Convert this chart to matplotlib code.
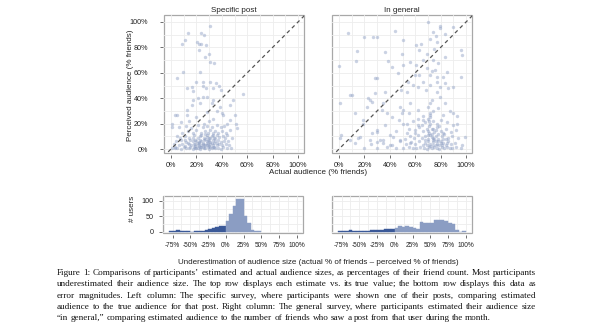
import numpy as np
import matplotlib
matplotlib.use("Agg")
from matplotlib import pyplot as plt

# ---- data ----
# (actual %, perceived %) pairs, specific-post survey
specific_points = [
    (30.7, 97), (24, 91.6), (26, 90), (13.6, 91), (10.8, 86), (8.7, 83), (22, 83), (20.5, 84),
    (24, 83), (27.6, 82), (22, 78), (29.7, 75), (26.8, 72.7), (30.7, 68.7), (33.9, 67.5),
    (9.2, 61), (22.8, 61), (5, 55.7), (20, 53), (25, 53), (31, 53), (35.4, 52), (12.8, 47.8),
    (17.6, 45.7), (25.4, 49.6), (27.5, 48), (32.8, 47.8), (38, 49.6), (39.4, 46.5), (57, 43),
    (49, 38.6), (46.5, 34.6), (50.4, 26.8), (51, 20), (46.5, 22.8), (3, 26.8), (0.5, 17.6),
    (12.4, 26.8), (16.3, 34.6), (17.6, 38.6), (21, 40), (25, 41), (32, 36), (40, 28),
    (43.8, 20), (51.7, 16.3), (46.5, 15), (42.5, 8.4), (16.3, 49), (28, 41), (33, 38.6),
    (22.8, 36), (38.6, 33.3), (12.4, 30.7), (28, 29.4), (41, 26.8), (4.5, 26.8), (20, 25.4),
    (33, 24), (0.5, 20), (36, 30), (30, 22), (14, 22), (26, 20), (8, 21),
    # dense cluster
    (3, 0.5), (5, 1), (8, 0), (10, 1.5), (12, 0.5), (14, 1), (15, 2), (17, 0), (18, 1.5), (20, 0.5),
    (21, 1), (23, 0), (24, 2), (26, 1), (27, 0.5), (29, 1.5), (30, 0), (32, 1), (33, 2), (35, 0.5),
    (37, 1), (39, 0), (41, 1.5), (44, 0.5), (47, 1),
    (6, 3), (9, 4), (11, 2.5), (13, 4.5), (16, 3), (18, 4), (19, 2.5), (21, 3.5), (22, 4.5), (24, 3),
    (25, 4), (27, 3), (28, 4.5), (30, 2.5), (31, 4), (33, 3.5), (34, 4.5), (36, 3), (38, 4), (40, 3),
    (43, 4), (46, 3),
    (4, 6), (8, 7), (12, 5.5), (15, 7), (17, 6), (19, 7.5), (22, 5.5), (24, 6.5), (26, 7.5), (28, 6),
    (29, 7), (31, 5.5), (33, 7), (35, 6), (37, 7.5), (39, 5.5), (42, 6.5), (45, 6),
    (7, 9), (11, 10), (14, 8.5), (18, 11), (21, 9), (23, 10.5), (26, 9), (28, 11), (30, 8.5), (32, 10),
    (34, 9), (36, 11), (38, 9.5), (41, 10), (44, 11), (48, 9),
    (9, 13), (13, 14), (17, 12.5), (20, 15), (24, 13), (27, 14.5), (29, 12.5), (31, 15), (33, 13),
    (35, 14), (37, 12.5), (40, 14.5), (43, 13),
    (6, 17), (12, 18), (16, 16.5), (21, 19), (25, 17), (28, 18.5), (32, 17), (36, 19), (39, 17), (42, 18),
    (1, 1), (2, 4), (3, 2), (5, 10), (23, 2), (28, 3), (31, 2), (25, 5), (20, 6), (35, 9), (27, 12),
    (19, 1), (22, 2.5), (26, 3.5), (29, 4), (32, 5), (23, 7), (27, 8), (31, 9), (24, 11), (19, 4),
    (34, 2), (36, 5), (30, 6), (25, 1.5), (21, 5), (28, 9.5), (33, 11), (17, 9), (14, 4), (11, 7),
]

# (actual %, perceived %) pairs, general survey
general_points = [
    (69.8, 99.7), (79.5, 96.8), (7.3, 91), (20, 88), (27, 88), (29.7, 88), (44, 93), (74, 92),
    (79.5, 95), (83.5, 90.5), (90, 96), (71.7, 87), (76.4, 89), (77, 84.5), (64.3, 83), (60.6, 82),
    (50, 86), (14, 77.4), (36, 76), (49.5, 74.5), (63, 78), (69, 75), (74.8, 78.5), (83.5, 72.7),
    (95.8, 78), (96.6, 74), (13, 69.5), (38.8, 69.5), (56, 68.7), (66.4, 70), (74, 70), (78, 67.5),
    (0.3, 65), (41.5, 64.8), (50, 66), (61, 66), (69.6, 64), (73, 61.4), (75.6, 62), (84.8, 61),
    (46.7, 59.6), (59.8, 58), (63, 58), (71.7, 58), (77, 57), (82, 57), (96, 57), (28.3, 55.7),
    (54.6, 53), (58, 50.4), (62.4, 49), (66.4, 53), (71.7, 50.4), (77, 53), (79.5, 49), (83.5, 51.7),
    (86, 47.8), (90, 49), (36, 45), (48.6, 46.5), (53.3, 45), (68.5, 46.5), (77, 45), (29.7, 55.7),
    (10, 42.5), (0.8, 36), (23, 40), (25.7, 37), (21.8, 33.3), (12.6, 28), (19, 22.8), (1.6, 11),
    (0.8, 8.4), (8.7, 7), (16.5, 9.7), (12.6, 4.5), (28.3, 43.8), (35, 36), (33.6, 30.7), (37.5, 28),
    (41.5, 25.4), (36.2, 19), (48, 33.3), (50.6, 30.7), (47.2, 22.8), (29.7, 13.6), (24.4, 7),
    (35, 7), (42.8, 9.7), (40, 3), (29.7, 5.7), (48, 7), (53.3, 12.4), (56, 4.5), (8.7, 42.5),
    (24.4, 38.6), (19, 20), (25.7, 12.4), (32.3, 7), (49.3, 28), (56, 36), (53.3, 20), (59.8, 15),
    (62.4, 19), (66.4, 22.8), (71.7, 28), (71.7, 36), (73, 38.6), (79.5, 41), (83.5, 36), (90, 28),
    (92.6, 20), (99, 9.7), (96.6, 3),
    # dense cluster
    (20, 1), (30, 0.5), (38, 2), (45, 1), (50, 0.5), (55, 2), (58, 1), (61, 0.5), (64, 2), (67, 1),
    (69, 0), (71, 1.5), (73, 0.5), (75, 2), (77, 1), (79, 0), (81, 1.5), (83, 0.5), (85, 2), (87, 1),
    (89, 0.5), (92, 1.5), (96, 0.5),
    (25, 4), (35, 5), (42, 3.5), (48, 6), (53, 4), (57, 5.5), (60, 4), (63, 6), (66, 3.5), (68, 5),
    (70, 6), (72, 4), (74, 5.5), (76, 3.5), (78, 6), (80, 4.5), (82, 5), (84, 3.5), (86, 6), (88, 4),
    (91, 5),
    (15, 9), (40, 11), (52, 8), (56, 10), (59, 8.5), (62, 11), (65, 9), (68, 10.5), (70, 8), (72, 11),
    (74, 9), (76, 10.5), (78, 8), (81, 10), (83, 11.5), (86, 9), (89, 10), (94, 8.5),
    (30, 15), (45, 14), (55, 16), (60, 13), (63, 17), (66, 14), (69, 16), (71, 13), (73, 15.5),
    (75, 13.5), (77, 17), (80, 14), (84, 16), (88, 13.5), (92, 15),
    (50, 20), (58, 22), (62, 24), (65, 19), (68, 21), (70, 24), (72, 19.5), (74, 22), (77, 20),
    (80, 23), (85, 21), (90, 19),
    (55, 28), (62, 31), (66, 26), (70, 33), (72, 27), (74, 30), (78, 32), (82, 27), (87, 30), (93, 26),
    (71, 18), (73, 12), (70, 14), (74, 7), (79, 3), (82, 8), (76, 6), (69, 3),
    (72, 2.5), (75, 8), (78, 12), (80, 6.5), (77, 4), (73, 9.5), (71, 22), (72, 25), (74, 16),
    (79, 18), (82, 12.5), (84, 8), (76, 15), (70, 11), (68, 7), (85, 4.5), (81, 3), (74, 3),
]

# error histograms, 5%-wide bins starting at the given left edge
specific_bins = np.arange(-80, 50, 5)
specific_counts = [4, 4, 5, 4, 3, 2, 0, 2, 3, 4, 6, 9, 13, 16, 18, 19,
                   34, 58, 84, 105, 105, 50, 30, 6, 1, 1]
general_bins = np.arange(-80, 100, 5)
general_counts = [1, 2, 3, 5, 3, 3, 4, 2, 3, 5, 5, 6, 7, 9, 10, 10,
                  12, 20, 16, 18, 14, 12, 10, 31, 30, 28, 28, 38, 39, 39, 36, 30,
                  25, 6, 0, 3]

scatter_ticks = [0, 20, 40, 60, 80, 100]
scatter_labels = ["0%", "20%", "40%", "60%", "80%", "100%"]
hist_ticks = [-75, -50, -25, 0, 25, 50, 75, 100]
hist_labels = ["-75%", "-50%", "-25%", "0%", "25%", "50%", "75%", "100%"]

caption = [
    "Figure 1: Comparisons of participants\u2019 estimated and actual audience sizes, as percentages of their friend count. Most participants",
    "underestimated their audience size. The top row displays each estimate vs. its true value; the bottom row displays this data as",
    "error magnitudes. Left column: The specific survey, where participants were shown one of their posts, comparing estimated",
    "audience to the true audience for that post. Right column: The general survey, where participants estimated their audience size",
    "\u201cin general,\u201d comparing estimated audience to the number of friends who saw a post from that user during the month.",
]

LIGHT = "#8b9dc3"
DARK = "#3b5998"
FRAME = "#a8a8a8"
GRID = "#ededed"
TXT = "#222222"

plt.rcParams["font.family"] = ["Liberation Sans", "DejaVu Sans"]

W, H = 596, 328
fig = plt.figure(figsize=(W / 100, H / 100), dpi=100)


def box(x0, y0, x1, y1):
    return [x0 / W, 1 - y1 / H, (x1 - x0) / W, (y1 - y0) / H]


def style(ax, show_y):
    ax.set_axisbelow(True)
    for s in ax.spines.values():
        s.set_visible(False)
    ax.spines["bottom"].set_position(("outward", 1.6))
    ax.spines["left"].set_position(("outward", 1.0))
    ax.patch.set_edgecolor(FRAME)
    ax.patch.set_linewidth(0.9)
    ax.grid(True, which="both", color=GRID, lw=0.6)
    ax.tick_params(which="major", length=2.4, width=0.6, color="#555555",
                   labelsize=5.2, labelcolor=TXT)
    ax.tick_params(which="minor", length=0)
    ax.tick_params(axis="x", pad=2.2)
    if not show_y:
        ax.tick_params(axis="y", left=False, labelleft=False)


def scatter_panel(rect, pts, title, show_y):
    ax = fig.add_axes(rect)
    pts = np.array(pts)
    ax.scatter(pts[:, 0], pts[:, 1], s=6, color=LIGHT, alpha=0.45, lw=0)
    ax.plot([-10, 110], [-10, 110], color="#555555", lw=0.9, ls=(0, (3, 2.6)))
    ax.set_xlim(-5.5, 104.7)
    ax.set_ylim(-3.1, 105.5)
    ax.set_xticks(scatter_ticks)
    ax.set_xticklabels(scatter_labels)
    ax.set_xticks(np.arange(10, 101, 20), minor=True)
    ax.set_yticks(scatter_ticks)
    ax.set_yticks(np.arange(10, 101, 20), minor=True)
    if show_y:
        ax.set_yticklabels(scatter_labels, ha="center")
        ax.tick_params(axis="y", pad=8.0)
    ax.set_title(title, fontsize=5.8, color=TXT, pad=2.5)
    style(ax, show_y)
    return ax


def hist_panel(rect, bins, counts, show_y):
    ax = fig.add_axes(rect)
    colors = [DARK if b < 0 else LIGHT for b in bins]
    ax.bar(bins, counts, width=5, align="edge", color=colors, edgecolor=colors, lw=0.3)
    ax.set_xlim(-88.5, 108.8)
    ax.set_ylim(-4, 116)
    ax.set_xticks(hist_ticks)
    ax.set_xticklabels(hist_labels)
    ax.set_xticks(np.arange(-87.5, 101, 25), minor=True)
    ax.set_yticks([0, 50, 100])
    ax.set_yticks([25, 75], minor=True)
    if show_y:
        ax.set_yticklabels(["0", "50", "100"], ha="center")
        ax.tick_params(axis="y", pad=3.4)
    style(ax, show_y)
    ax.tick_params(axis="x", labelsize=4.7, pad=2.8)
    return ax


scatter_panel(box(164, 15, 304, 153), specific_points, "Specific post", True)
scatter_panel(box(332, 15, 472, 153), general_points, "In general", False)
hist_panel(box(163, 196, 303, 233), specific_bins, specific_counts, True)
hist_panel(box(332, 196, 472, 233), general_bins, general_counts, False)

fig.text(131 / W, 1 - 85 / H, "Perceived audience (% friends)", rotation=90,
         ha="center", va="center", fontsize=5.8, color=TXT)
fig.text(318 / W, 1 - 172 / H, "Actual audience (% friends)",
         ha="center", va="center", fontsize=5.8, color=TXT)
fig.text(132 / W, 1 - 209 / H, "# users", rotation=90,
         ha="center", va="center", fontsize=5.8, color=TXT)
fig.text(318 / W, 1 - 262 / H,
         "Underestimation of audience size (actual % of friends \u2013 perceived % of friends)",
         ha="center", va="center", fontsize=5.8, color=TXT)

# justified caption, word by word; font size fitted to the widest line
renderer = fig.canvas.get_renderer()
cap_left, cap_right = 57, 536
cap_y = [273, 284.3, 295.6, 306.9, 318.2]
serif = ["Liberation Serif", "DejaVu Serif"]
probe = [fig.text(0, 0, s, family=serif, fontsize=10) for s in caption[:4]]
widest = max(t.get_window_extent(renderer).width for t in probe)
for t in probe:
    t.remove()
cap_size = 10 * (cap_right - cap_left) * 0.985 / widest
space = cap_size * 0.25 * 100 / 72
for i, line in enumerate(caption):
    words = line.split(" ")
    texts = [fig.text(0, 1 - cap_y[i] / H, w, va="center", ha="left",
                      family=serif, fontsize=cap_size, color="#111111") for w in words]
    widths = [t.get_window_extent(renderer).width for t in texts]
    if i < len(caption) - 1:
        gap = (cap_right - cap_left - sum(widths)) / (len(words) - 1)
    else:
        gap = space
    x = cap_left
    for t, w in zip(texts, widths):
        t.set_x(x / W)
        x += w + gap

fig.savefig("out.png", dpi=100)
